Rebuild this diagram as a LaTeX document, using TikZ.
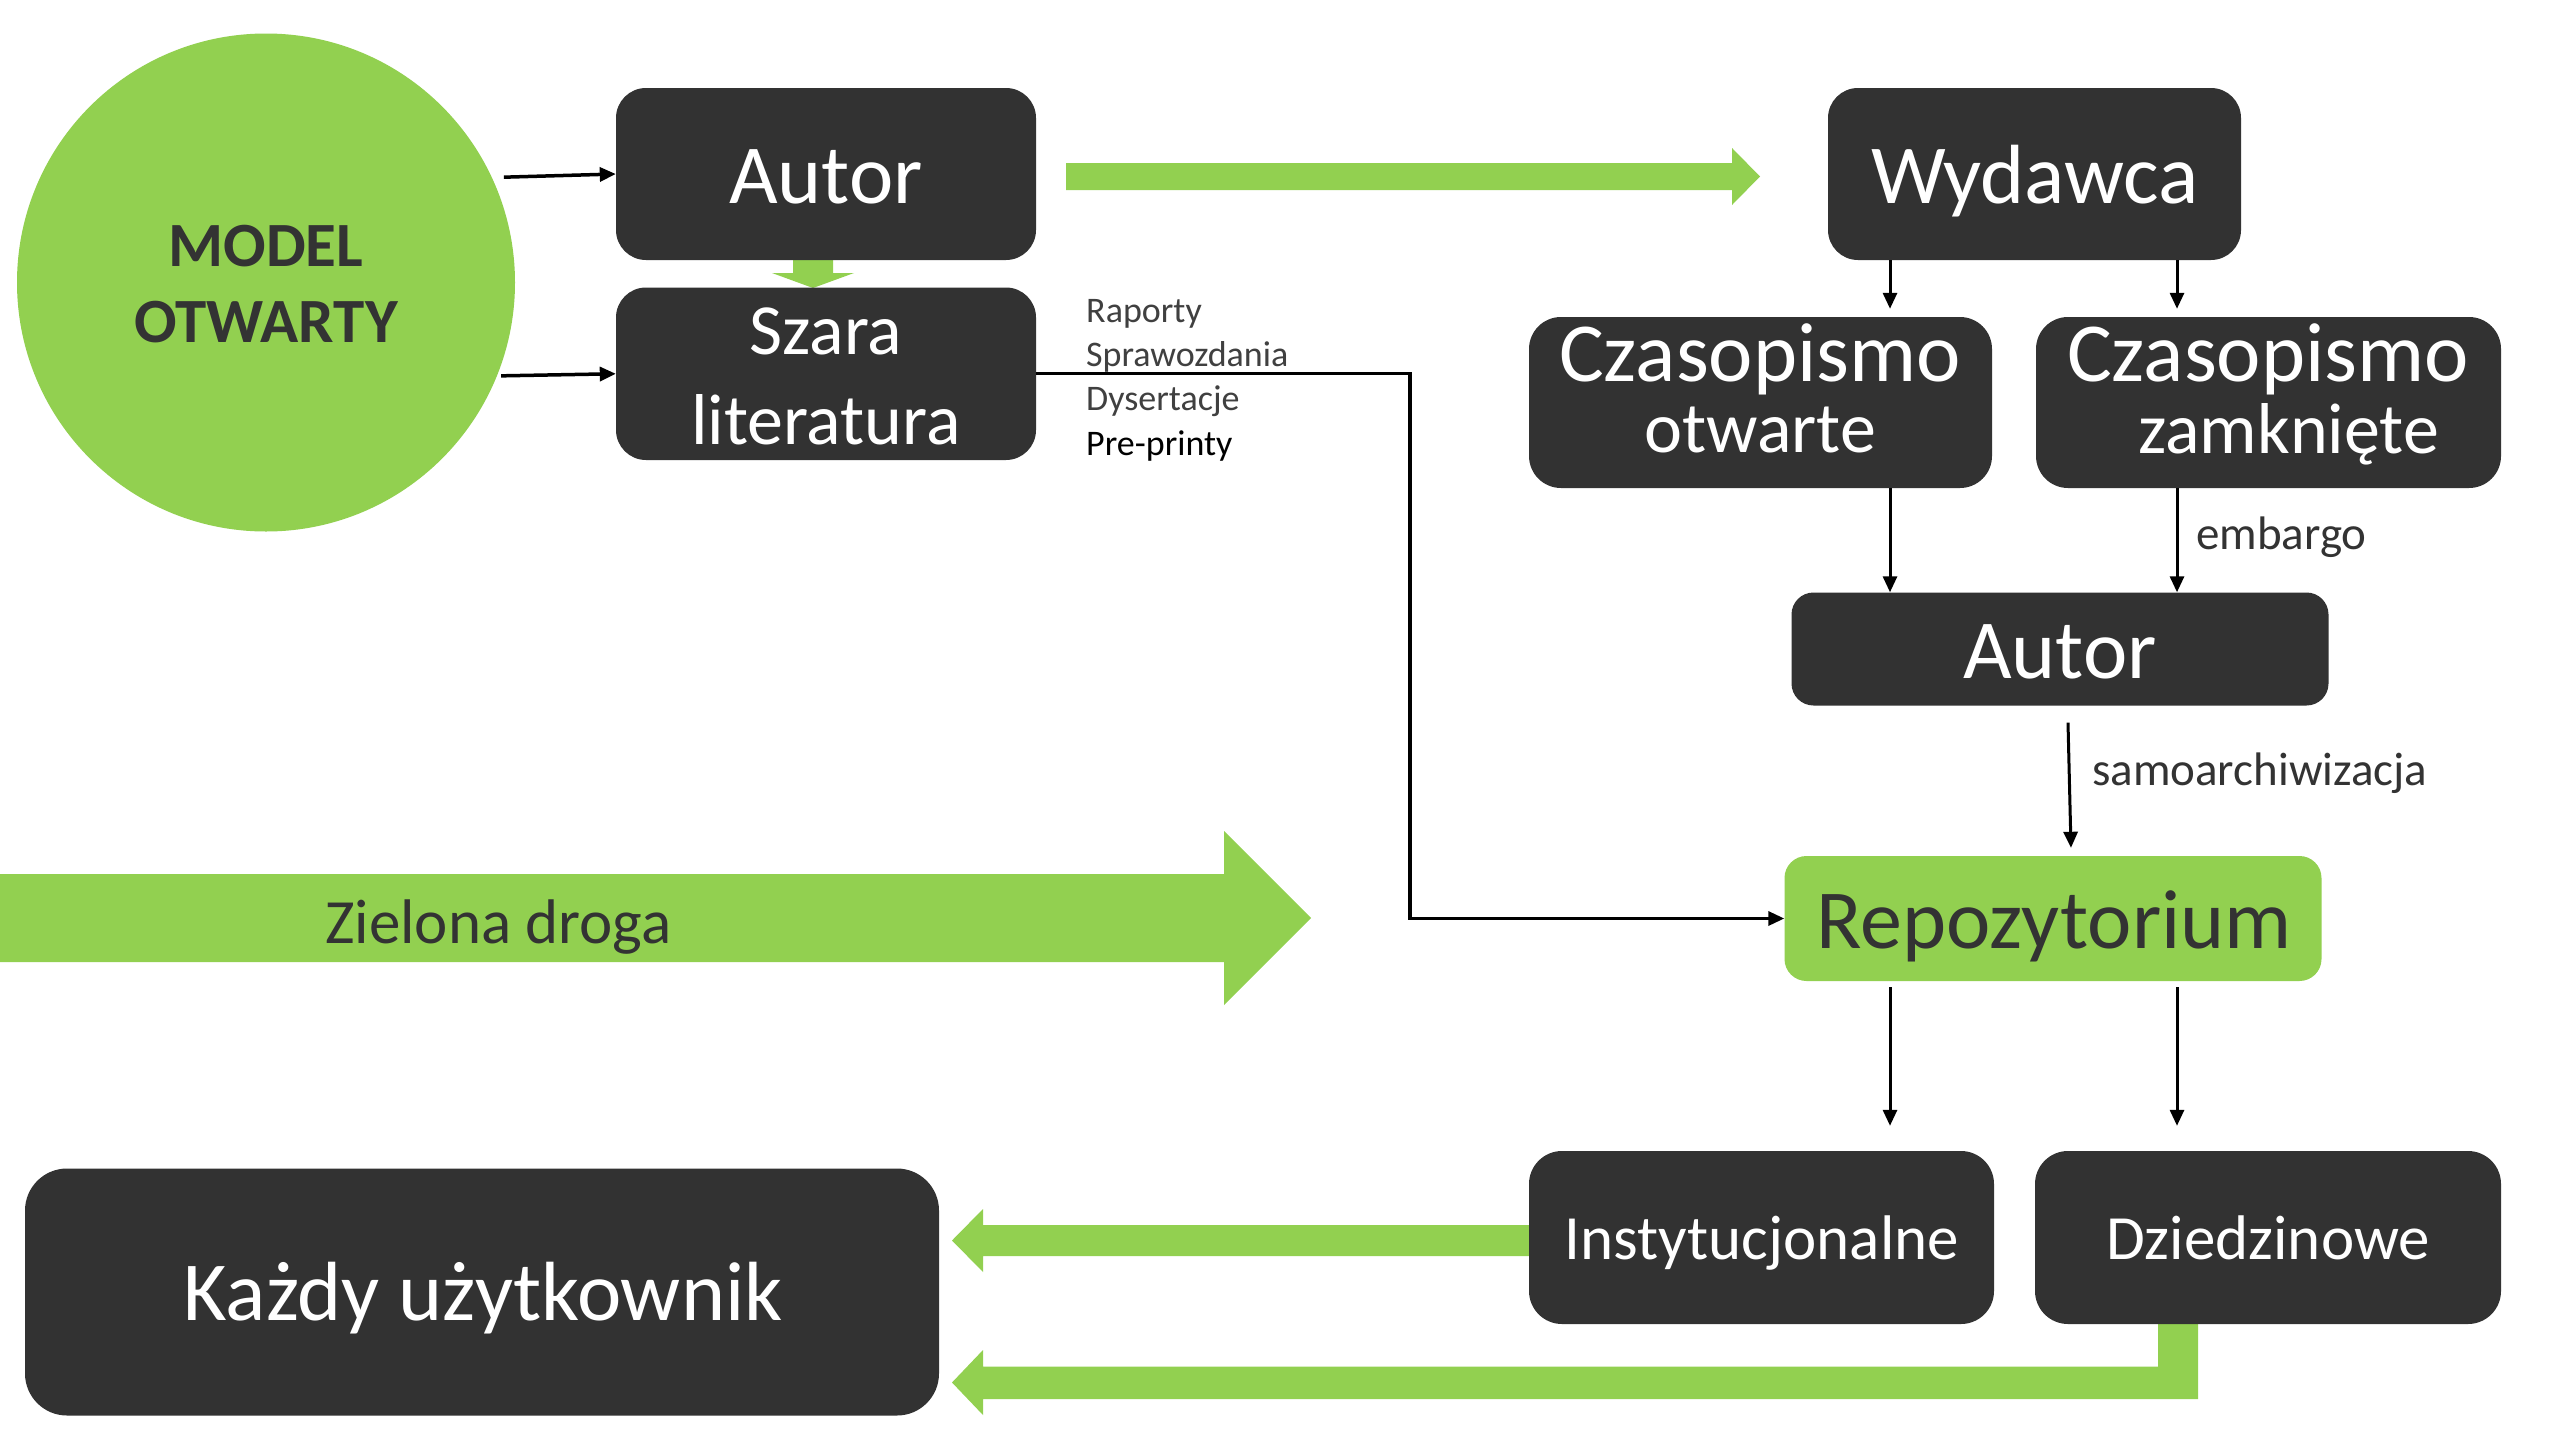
\documentclass[tikz,border=0pt]{standalone}
\usepackage{fontspec}
\setmainfont{Carlito}
\usetikzlibrary{arrows.meta}
\definecolor{grn}{HTML}{92D050}
\definecolor{dbox}{HTML}{323232}
\definecolor{dtxt}{HTML}{333333}
\definecolor{gtxt}{HTML}{404040}
\newcommand\myfs[2]{\fontsize{#1}{#2}\selectfont}
\newcommand\twolines[3]{\vtop{\baselineskip=#1\lineskiplimit=-1000pt\halign{\hfil##\hfil\cr#2\cr#3\cr}}}
\tikzset{
  box/.style={fill=dbox, draw=none, inner sep=0pt, rounded corners=#1},
  box/.default=30pt,
  wtxt/.style={text=white, inner sep=0pt, anchor=base},
  dlabel/.style={text=dtxt, inner sep=0pt, anchor=base},
  arr/.style={draw=black, line width=3pt, -{Triangle[length=16pt,width=14pt]}},
  garrow/.style={fill=grn, draw=none}
}
\begin{document}
\begin{tikzpicture}[x=1pt,y=-1pt]
\useasboundingbox (0,0) rectangle (2560,1440);
\fill[white] (0,0) rectangle (2560,1440);

% green arrows (shapes)
\fill[garrow] (1066,163) -- (1732,163) -- (1732,148) -- (1760,176.5) -- (1732,205) -- (1732,190) -- (1066,190) -- cycle;
\fill[garrow] (793,259) -- (833,259) -- (833,273) -- (854,273) -- (813,288) -- (772,273) -- (793,273) -- cycle;
\fill[garrow] (0,874) -- (1224,874) -- (1224,831) -- (1311,918) -- (1224,1005) -- (1224,962) -- (0,962) -- cycle;
\fill[garrow] (1531,1225) -- (983,1225) -- (983,1209) -- (952,1240.5) -- (983,1272) -- (983,1256) -- (1531,1256) -- cycle;
\fill[garrow] (2158,1322) -- (2198,1322) -- (2198,1399) -- (983,1399) -- (983,1415) -- (952,1382.5) -- (983,1350) -- (983,1366.5) -- (2158,1366.5) -- cycle;

% circle
\node[circle, fill=grn, draw=none, minimum size=498pt, inner sep=0pt] (model) at (266,282.5) {};
\node[dlabel, font=\bfseries\myfs{63}{76}] (modelt) at (266,266) {\twolines{76pt}{MODEL}{OTWARTY}};

% boxes
\node[box, minimum width=420pt, minimum height=172pt] (autor) at (826,174) {};
\node[box, minimum width=420pt, minimum height=172.5pt] (szara) at (826,373.75) {};
\node[box, minimum width=413pt, minimum height=172pt] (wyd) at (2034.5,174) {};
\node[box=32pt, minimum width=463pt, minimum height=171pt] (czo) at (1760.5,402.5) {};
\node[box=32pt, minimum width=465pt, minimum height=171pt] (czz) at (2268.5,402.5) {};
\node[box=22pt, minimum width=537pt, minimum height=113pt] (aut2) at (2060,649) {};
\node[box=22pt, fill=grn, minimum width=537pt, minimum height=125pt] (repo) at (2053,918.5) {};
\node[box=33pt, minimum width=465pt, minimum height=173pt] (inst) at (1761.5,1237.5) {};
\node[box=33pt, minimum width=466pt, minimum height=173pt] (dzie) at (2268,1237.5) {};
\node[box=42pt, minimum width=914pt, minimum height=247pt] (kazdy) at (482,1292) {};

% texts
\node[wtxt, font=\myfs{84}{84}] (autort) at (826,203.6) {Autor};
\node[wtxt, font=\myfs{72}{90}] (szarat) at (826,354.6) {\twolines{89.5pt}{Szara}{literatura}};
\node[wtxt, font=\myfs{84}{84}] (wydt) at (2035,203.75) {Wydawca};
\node[wtxt, font=\myfs{84}{84}] (czot) at (1760,381.5) {\twolines{70.5pt}{Czasopismo}{\myfs{72}{72}otwarte}};
\node[wtxt, font=\myfs{84}{84}] (czzt) at (2268,381.5) {\twolines{71.5pt}{Czasopismo}{\myfs{72}{72}\kern41pt zamknięte}};
\node[wtxt, font=\myfs{84}{84}] (aut2t) at (2060,678) {Autor};
\node[dlabel, font=\myfs{84}{84}] (repot) at (2054,948) {Repozytorium};
\node[wtxt, font=\myfs{63}{63}] (instt) at (1762,1259) {Instytucjonalne};
\node[wtxt, font=\myfs{63}{63}] (dziet) at (2268,1259) {Dziedzinowe};
\node[wtxt, font=\myfs{84}{84}] (kazdyt) at (483,1320) {Każdy użytkownik};
\node[dlabel, font=\myfs{63}{63}] (zielt) at (498.5,943) {Zielona droga};
\node[dlabel, anchor=base west, font=\myfs{47}{47}] (embt) at (2196,549) {embargo};
\node[dlabel, anchor=base west, font=\myfs{47}{47}] (samt) at (2092,785) {samoarchiwizacja};
\node[dlabel, anchor=base west, font=\myfs{36}{44.4}] (listt) at (1086,322)
  {\vtop{\baselineskip=44.4pt\lineskiplimit=-1000pt
   \hbox{\textcolor{gtxt}{Raporty}}\hbox{\textcolor{gtxt}{Sprawozdania}}\hbox{\textcolor{gtxt}{Dysertacje}}\hbox{\textcolor{black}{Pre-printy}}}};

% connectors
\coordinate (xL) at (1890,0);
\coordinate (xR) at (2177,0);
\coordinate (bend) at (1410,918.5);
\draw[arr, line width=3.5pt] ([xshift=12pt]model.25) -- (autor.west);
\draw[arr, line width=3.5pt] ([xshift=4pt]model.-22) -- (szara.west);
\draw[arr] (wyd.south -| xL) -- ([yshift=8pt]czo.north -| xL);
\draw[arr] (wyd.south -| xR) -- ([yshift=8pt]czz.north -| xR);
\draw[arr] (czo.south -| xL) -- (aut2.north -| xL);
\draw[arr] (czz.south -| xR) -- (aut2.north -| xR);
\draw[arr] ([xshift=8pt,yshift=-17pt]aut2.south) -- ([xshift=18pt,yshift=8pt]repo.north);
\draw[arr, line width=3.3pt] (szara.east) -| (bend) -- (repo.west);
\draw[arr] ([yshift=-6pt]repo.south -| xL) -- ([yshift=25pt]inst.north -| xL);
\draw[arr] ([yshift=-6pt]repo.south -| xR) -- ([yshift=25pt]dzie.north -| xR);
\end{tikzpicture}
\end{document}
